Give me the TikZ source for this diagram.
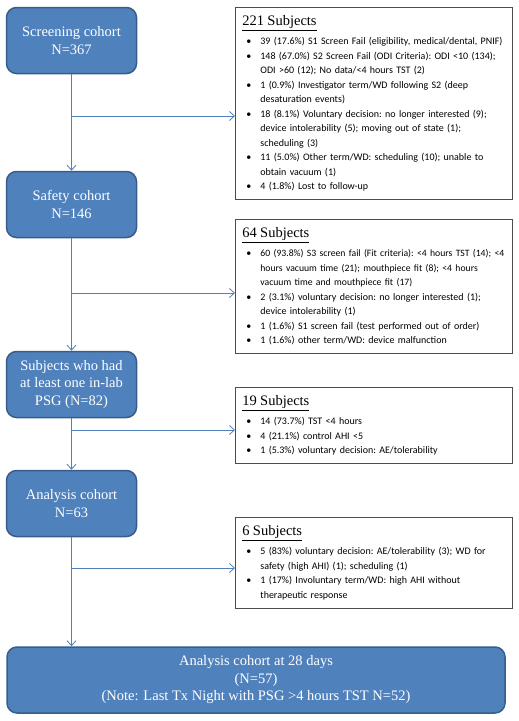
\documentclass[tikz,border=0pt]{standalone}
\usepackage{fontspec}
\setmainfont{Liberation Serif}
\newfontfamily\listfont{Carlito}
\usepackage{enumitem}
\usetikzlibrary{arrows.meta}

\definecolor{boxblue}{HTML}{4F81BD}
\definecolor{boxedge}{HTML}{385D8A}

\newcommand{\subjhead}[1]{{\rmfamily\fontsize{14.5}{16}\selectfont\underline{#1}}\par\vspace{5pt}}
\newenvironment{droplist}{\begin{itemize}[leftmargin=18pt,labelsep=9pt,itemsep=0pt,topsep=0pt,parsep=0pt,partopsep=0pt,label=\textbullet]}{\end{itemize}}

\tikzset{
  cohort/.style = {draw=boxedge, line width=1.5pt, fill=boxblue, rounded corners=10pt, text=white, align=center, font=\fontsize{14.5}{17.5}\selectfont, minimum width=130pt, minimum height=66pt, inner sep=2pt},
  reasons/.style = {draw=black!70, line width=0.8pt, fill=white, anchor=north west, text width=263pt, inner xsep=7pt, inner ysep=8pt, align=left, font=\listfont\fontsize{10}{14.5}\selectfont\frenchspacing},
  flow/.style = {draw=boxblue, line width=0.8pt, -{Straight Barb[length=5pt,width=9pt]}}
}

\begin{document}
\begin{tikzpicture}[x=1pt, y=-1pt]
			\useasboundingbox (0,0) rectangle (519,721);
			%cohorts down the left side
			\node[cohort] (screen) at (71.5,40.5) {Screening cohort\\N=367};
			\node[cohort] (safety) at (71.5,204.5) {Safety cohort\\N=146};
			\node[cohort] (inlab) at (71.5,384.5) {Subjects who had\\at least one in-lab\\PSG (N=82)};
			\node[cohort] (analysis) at (71.5,503.5) {Analysis cohort\\N=63};
			\node[cohort, minimum width=498pt] (final) at (256,680) {Analysis cohort at 28 days\\(N=57)\\(Note: Last Tx Night with PSG >4 hours TST N=52)};
			%drop-out boxes
			\node[reasons] (drop1) at (235,7) {\subjhead{221 Subjects}
				\begin{droplist}
				\item 39 (17.6\%) S1 Screen Fail (eligibility, medical/dental, PNIF)
				\item 148 (67.0\%) S2 Screen Fail (ODI Criteria): ODI <10 (134); ODI >60 (12); No data/<4 hours TST (2)
				\item 1 (0.9\%) Investigator term/WD following S2 (deep desaturation events)
				\item 18 (8.1\%) Voluntary decision: no longer interested (9); device intolerability (5); moving out of state (1); scheduling (3)
				\item 11 (5.0\%) Other term/WD: scheduling (10); unable to obtain vacuum (1)
				\item 4 (1.8\%) Lost to follow-up
				\end{droplist}\vspace{-3pt}};
			\node[reasons] (drop2) at (235,219) {\subjhead{64 Subjects}
				\begin{droplist}
				\item {\fontsize{9.7}{14.5}\selectfont 60 (93.8\%) S3 screen fail (Fit criteria): <4 hours TST (14); <4 hours vacuum time (21); mouthpiece fit (8); <4 hours vacuum time and mouthpiece fit (17)}
				\item 2 (3.1\%) voluntary decision: no longer interested (1); device intolerability (1)
				\item 1 (1.6\%) S1 screen fail (test performed out of order)
				\item 1 (1.6\%) other term/WD: device malfunction
				\end{droplist}\vspace{4pt}};
			\node[reasons] (drop3) at (235,387) {\subjhead{19 Subjects}
				\begin{droplist}
				\item 14 (73.7\%) TST <4 hours
				\item 4 (21.1\%) control AHI <5
				\item 1 (5.3\%) voluntary decision: AE/tolerability
				\end{droplist}\vspace{8pt}};
			\node[reasons] (drop4) at (235,517) {\subjhead{6 Subjects}
				\begin{droplist}
				\item 5 (83\%) voluntary decision: AE/tolerability (3); WD for safety (high AHI) (1); scheduling (1)
				\item 1 (17\%) Involuntary term/WD: high AHI without therapeutic response
				\end{droplist}\vspace{6pt}};
			%main flow
			\draw[flow] (screen) -- (safety);
			\draw[flow] (safety) -- (inlab);
			\draw[flow] (inlab) -- (analysis);
			\draw[flow] (analysis.south) -- (analysis.south |- final.north);
			%side branches
			\coordinate (j1) at (71.5,116);
			\coordinate (j2) at (71.5,293);
			\coordinate (j3) at (71.5,430);
			\coordinate (j4) at (71.5,568);
			\draw[flow] (j1) -- (j1 -| drop1.west);
			\draw[flow] (j2) -- (j2 -| drop2.west);
			\draw[flow] (j3) -- (j3 -| drop3.west);
			\draw[flow] (j4) -- (j4 -| drop4.west);
		\end{tikzpicture}
\end{document}
